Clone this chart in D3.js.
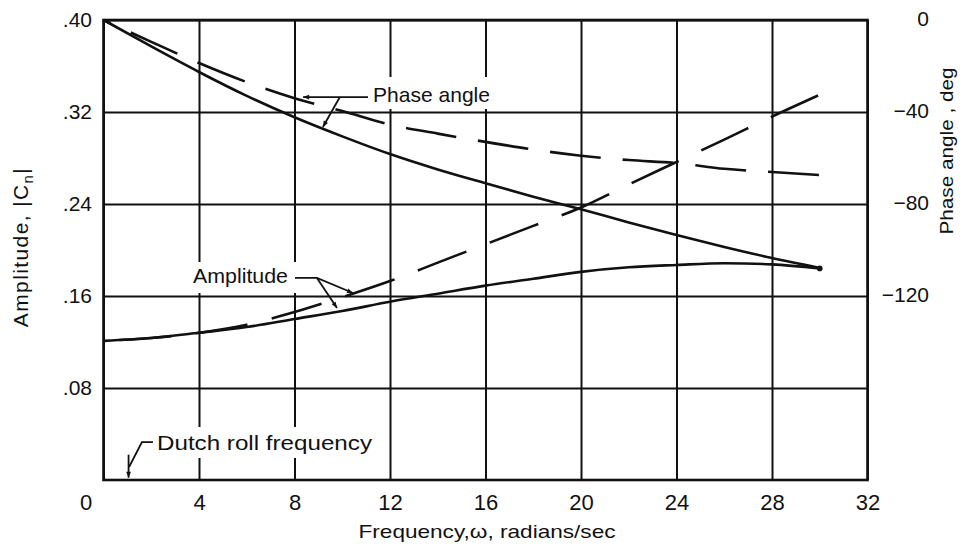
<!DOCTYPE html>
<html>
<head>
<meta charset="utf-8">
<script src="https://cdn.jsdelivr.net/npm/d3@7"></script>
<style>
  body { margin: 0; background: #fff; }
  svg { display: block; }
</style>
</head>
<body>
<div id="chart"></div>
<script>
// Frequency response: amplitude |Cn| (left axis) and phase angle (right axis)
// solid = one set of results, dashed = the other

const freq = [0, 2, 4, 6, 8, 10, 12, 14, 16, 18, 20, 22, 24, 26, 28, 30];
const ampSolid = [0.121, 0.1235, 0.128, 0.133, 0.140, 0.147, 0.155, 0.162, 0.169, 0.175, 0.181, 0.185, 0.187, 0.1885, 0.1875, 0.184];
const phaseSolid = [0, -11.5, -22.6, -33, -42.3, -50.6, -58.3, -65, -71, -76.8, -82.3, -88, -93.5, -98.7, -103.5, -107.8];
const ampDashed = [0.121, 0.1235, 0.128, 0.135, 0.146, 0.159, 0.173, 0.189, 0.205, 0.221, 0.237, 0.257, 0.2765, 0.296, 0.316, 0.335];
const phaseDashed = [0, -9.5, -18.7, -27, -34, -39.6, -45.5, -49.4, -53, -56.3, -59, -60.9, -62.2, -64.7, -66.1, -67.4];

const xTicks = [0, 4, 8, 12, 16, 20, 24, 28, 32];
const ampTicks = [0.08, 0.16, 0.24, 0.32, 0.40];
const phaseTicks = [0, -40, -80, -120];
const dutchRollFreq = 1.05;

const width = 964;
const height = 550;
const plot = { left: 103.5, right: 867.5, top: 20, bottom: 480 };
const font = '"Liberation Sans", Arial, sans-serif';
const ink = "#111";

const x = d3.scaleLinear().domain([0, 32]).range([plot.left, plot.right]);
const yAmp = d3.scaleLinear().domain([0, 0.40]).range([plot.bottom, plot.top]);
const yPhase = d3.scaleLinear().domain([-200, 0]).range([plot.bottom, plot.top]);

const svg = d3.select("#chart")
  .append("svg")
  .attr("width", width)
  .attr("height", height)
  .attr("viewBox", [0, 0, width, height]);

svg.append("rect").attr("width", width).attr("height", height).attr("fill", "#fff");

const defs = svg.append("defs");
defs.append("marker")
  .attr("id", "arrow")
  .attr("viewBox", "0 0 10 10")
  .attr("refX", 10)
  .attr("refY", 5)
  .attr("markerWidth", 9)
  .attr("markerHeight", 6)
  .attr("markerUnits", "userSpaceOnUse")
  .attr("orient", "auto")
  .append("path")
  .attr("d", "M0,1 L10,5 L0,9 Z")
  .attr("fill", ink);

// grid
svg.append("g")
  .attr("transform", "translate(0," + plot.bottom + ")")
  .call(d3.axisBottom(x).tickValues(xTicks).tickSize(-(plot.bottom - plot.top)).tickFormat(""))
  .call(function(g) { g.select(".domain").remove(); })
  .selectAll("line")
  .attr("stroke", ink)
  .attr("stroke-width", 2);

svg.append("g")
  .attr("transform", "translate(" + plot.left + ",0)")
  .call(d3.axisLeft(yAmp).tickValues(ampTicks).tickSize(-(plot.right - plot.left)).tickFormat(""))
  .call(function(g) { g.select(".domain").remove(); })
  .selectAll("line")
  .attr("stroke", ink)
  .attr("stroke-width", 2);

svg.append("rect")
  .attr("x", plot.left)
  .attr("y", plot.top)
  .attr("width", plot.right - plot.left)
  .attr("height", plot.bottom - plot.top)
  .attr("fill", "none")
  .attr("stroke", ink)
  .attr("stroke-width", 2.6);

// white patches behind the callout labels (grid is broken there)
const patches = [
  [366, 77, 130, 32],
  [189, 262, 109, 31],
  [150, 427, 228, 31]
];
svg.append("g").selectAll("rect")
  .data(patches)
  .join("rect")
  .attr("x", function(d) { return d[0]; })
  .attr("y", function(d) { return d[1]; })
  .attr("width", function(d) { return d[2]; })
  .attr("height", function(d) { return d[3]; })
  .attr("fill", "#fff");

// curves
function curve(values, yScale) {
  return d3.line()
    .x(function(d, i) { return x(freq[i]); })
    .y(function(d) { return yScale(d); })
    .curve(d3.curveMonotoneX)(values);
}

const curves = [
  { values: ampSolid, y: yAmp, dash: null, offset: 0 },
  { values: phaseSolid, y: yPhase, dash: null, offset: 0 },
  { values: ampDashed, y: yAmp, dash: "52,25", offset: 61 },
  { values: phaseDashed, y: yPhase, dash: "51,22", offset: 43 }
];

svg.append("g").selectAll("path")
  .data(curves)
  .join("path")
  .attr("d", function(d) { return curve(d.values, d.y); })
  .attr("fill", "none")
  .attr("stroke", ink)
  .attr("stroke-width", 2.6)
  .attr("stroke-dasharray", function(d) { return d.dash; })
  .attr("stroke-dashoffset", function(d) { return d.offset; });

svg.append("circle")
  .attr("cx", x(freq[freq.length - 1]))
  .attr("cy", yAmp(ampSolid[ampSolid.length - 1]))
  .attr("r", 2.8)
  .attr("fill", ink);

// tick labels
svg.append("g")
  .attr("transform", "translate(0," + plot.bottom + ")")
  .call(d3.axisBottom(x).tickValues(xTicks).tickSize(0).tickPadding(14).tickFormat(d3.format("d")))
  .call(function(g) { g.select(".domain").remove(); })
  .call(function(g) {
    g.selectAll("text")
      .attr("font-family", font)
      .attr("font-size", 22)
      .attr("fill", ink)
      .attr("dx", function(d) { return d === 0 ? -18 : 0; });
  });

svg.append("g")
  .attr("transform", "translate(" + plot.left + ",0)")
  .call(d3.axisLeft(yAmp).tickValues(ampTicks).tickSize(0).tickPadding(11.5)
    .tickFormat(function(d) { return d3.format(".2f")(d).replace(/^0/, ""); }))
  .call(function(g) { g.select(".domain").remove(); })
  .call(function(g) {
    g.selectAll("text")
      .attr("font-family", font)
      .attr("font-size", 21)
      .attr("fill", ink);
  });

svg.append("g")
  .attr("transform", "translate(" + plot.right + ",0)")
  .call(d3.axisRight(yPhase).tickValues(phaseTicks).tickSize(0)
    .tickFormat(function(d) { return d === 0 ? "0" : "\u2212" + Math.abs(d); }))
  .call(function(g) { g.select(".domain").remove(); })
  .call(function(g) {
    g.selectAll("text")
      .attr("x", 61.5)
      .attr("dy", "0.28em")
      .attr("text-anchor", "end")
      .attr("font-family", font)
      .attr("font-size", 21)
      .attr("fill", ink);
  });

// axis titles
svg.append("text")
  .attr("x", 487)
  .attr("y", 538)
  .attr("text-anchor", "middle")
  .attr("font-family", font)
  .attr("font-size", 19)
  .attr("fill", ink)
  .attr("textLength", 257)
  .attr("lengthAdjust", "spacingAndGlyphs")
  .text("Frequency,\u03c9, radians/sec");

const ampTitle = svg.append("text")
  .attr("transform", "translate(28,247) rotate(-90)")
  .attr("text-anchor", "middle")
  .attr("font-family", font)
  .attr("font-size", 21)
  .attr("letter-spacing", 1.4)
  .attr("fill", ink);
ampTitle.append("tspan").text("Amplitude,  |C");
ampTitle.append("tspan").attr("font-size", 15).attr("dy", 5).text("n");
ampTitle.append("tspan").attr("dy", -5).text("|");

svg.append("text")
  .attr("transform", "translate(953,151) rotate(-90)")
  .attr("text-anchor", "middle")
  .attr("font-family", font)
  .attr("font-size", 19)
  .attr("fill", ink)
  .attr("textLength", 167)
  .attr("lengthAdjust", "spacingAndGlyphs")
  .text("Phase angle , deg");

// callouts
function label(text, px, py, len) {
  svg.append("text")
    .attr("x", px)
    .attr("y", py)
    .attr("font-family", font)
    .attr("font-size", 21)
    .attr("fill", ink)
    .attr("textLength", len)
    .attr("lengthAdjust", "spacingAndGlyphs")
    .text(text);
}

function leader(points, yScale, arrow) {
  svg.append("path")
    .attr("d", d3.line()
      .x(function(d) { return x(d[0]); })
      .y(function(d) { return yScale(d[1]); })(points))
    .attr("fill", "none")
    .attr("stroke", ink)
    .attr("stroke-width", 1.8)
    .attr("marker-end", arrow ? "url(#arrow)" : null);
}

label("Phase angle", 373, 102, 117);
leader([[11.08, -33.5], [8.36, -33.5]], yPhase, true);
leader([[9.9, -33.5], [9.19, -46.5]], yPhase, true);

label("Amplitude", 193, 283, 95);
leader([[8.02, 0.1757], [8.94, 0.1757], [10.45, 0.1626]], yAmp, true);
leader([[8.94, 0.1757], [9.78, 0.1496]], yAmp, true);

label("Dutch roll frequency", 157, 450, 215);
leader([[2.07, 0.033], [1.61, 0.033], [1.07, 0.0113]], yAmp, false);
leader([[dutchRollFreq, 0.022], [dutchRollFreq, 0.002]], yAmp, true);
</script>
</body>
</html>
